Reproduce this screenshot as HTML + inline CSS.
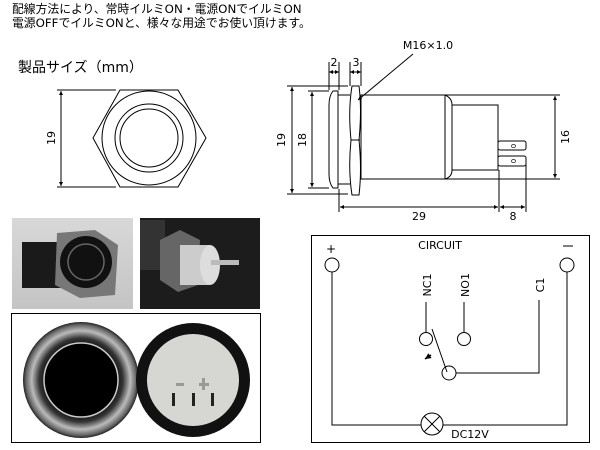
<!DOCTYPE html>
<html><head><meta charset="utf-8"><style>
body{margin:0;background:#fff;width:600px;height:450px;overflow:hidden}
svg{display:block}
text{font-family:"DejaVu Sans","Noto Sans CJK JP",sans-serif}
</style></head><body>
<svg width="600" height="450" viewBox="0 0 600 450" xmlns="http://www.w3.org/2000/svg">
<defs>
<marker id="a" viewBox="0 0 6 6" refX="6" refY="3" markerWidth="4" markerHeight="4" orient="auto-start-reverse"><path d="M0,0L6,3L0,6z" fill="#000"/></marker>
<radialGradient id="ring" cx="0.5" cy="0.5" r="0.5"><stop offset="0.6" stop-color="#111"/><stop offset="0.72" stop-color="#333"/><stop offset="0.85" stop-color="#bbb"/><stop offset="0.95" stop-color="#666"/><stop offset="1" stop-color="#222"/></radialGradient>
<linearGradient id="p1" x1="0" y1="0" x2="0" y2="1"><stop offset="0" stop-color="#d8d8d8"/><stop offset="1" stop-color="#c4c4c4"/></linearGradient>
</defs>
<text x="12" y="13" font-size="11.8" font-family="Noto Sans CJK JP,sans-serif">配線方法により、常時イルミON・電源ONでイルミON</text>
<text x="12" y="27" font-size="11.8" font-family="Noto Sans CJK JP,sans-serif">電源OFFでイルミONと、様々な用途でお使い頂けます。</text>
<text x="18" y="72" font-size="14" font-family="Noto Sans CJK JP,sans-serif">製品サイズ（mm）</text>
<g fill="none" stroke="#000" stroke-width="1">
<polygon points="120,90 178,90 206,138 178,187 120,187 93,138"/>
<circle cx="149" cy="138" r="47"/><circle cx="149" cy="138" r="34"/><circle cx="149" cy="138" r="29"/>
<line x1="57" y1="90" x2="116" y2="90"/><line x1="57" y1="187" x2="116" y2="187"/>
<line x1="61" y1="91" x2="61" y2="186" marker-start="url(#a)" marker-end="url(#a)"/>
<line x1="287" y1="86" x2="348" y2="86"/><line x1="287" y1="194" x2="348" y2="194"/>
<line x1="292" y1="87" x2="292" y2="193" marker-start="url(#a)" marker-end="url(#a)"/>
<line x1="308" y1="91" x2="329" y2="91"/><line x1="308" y1="188" x2="329" y2="188"/>
<line x1="312" y1="92" x2="312" y2="187" marker-start="url(#a)" marker-end="url(#a)"/>
<path d="M338,91 L333,91 Q329,96 329,105 L329,174 Q329,183 333,188 L338,188 Z"/>
<line x1="338" y1="95" x2="350" y2="95"/><line x1="338" y1="184" x2="350" y2="184"/>
<path d="M352,86 L359,86 Q362,110 359,140 Q362,170 359,195 L352,195 Q348,170 351,140 Q348,110 352,86 Z"/>
<line x1="351" y1="140" x2="360" y2="140"/>
<rect x="361" y="95" width="84" height="84"/>
<path d="M445,95 Q452,98 452,105 L452,170 Q452,177 445,179"/>
<rect x="452" y="105" width="46" height="65"/>
<rect x="498" y="141" width="28" height="9" rx="2"/><rect x="498" y="156" width="28" height="10" rx="2"/>
<line x1="445" y1="95" x2="560" y2="95"/><line x1="445" y1="179" x2="560" y2="179"/>
<line x1="555" y1="96" x2="555" y2="178" marker-start="url(#a)" marker-end="url(#a)"/>
<line x1="339" y1="189" x2="339" y2="212"/><line x1="499" y1="170" x2="499" y2="212"/><line x1="526" y1="160" x2="526" y2="212"/>
<line x1="340" y1="207" x2="498" y2="207" marker-start="url(#a)" marker-end="url(#a)"/>
<line x1="500" y1="207" x2="525" y2="207" marker-start="url(#a)" marker-end="url(#a)"/>
<line x1="329" y1="62" x2="329" y2="90"/><line x1="339" y1="62" x2="339" y2="90"/><line x1="350" y1="62" x2="350" y2="86"/><line x1="361" y1="62" x2="361" y2="86"/>
<line x1="329" y1="72" x2="339" y2="72" marker-start="url(#a)" marker-end="url(#a)"/>
<line x1="350" y1="72" x2="361" y2="72" marker-start="url(#a)" marker-end="url(#a)"/>
<line x1="413" y1="54" x2="358" y2="100" marker-end="url(#a)"/>
</g>
<g font-size="11" text-anchor="middle">
<text transform="translate(55,138) rotate(-90)">19</text>
<text transform="translate(285,140) rotate(-90)">19</text>
<text transform="translate(306,140) rotate(-90)">18</text>
<text transform="translate(569,137) rotate(-90)">16</text>
<text transform="translate(516,146) rotate(-90)" font-size="7">0</text>
<text transform="translate(516,161) rotate(-90)" font-size="7">0</text>
<text x="334" y="66">2</text><text x="356" y="66">3</text>
<text x="428" y="49">M16×1.0</text>
<text x="419" y="220">29</text><text x="513" y="220">8</text>
</g>
<rect x="12" y="218" width="121" height="91" fill="url(#p1)"/>
<rect x="22" y="242" width="40" height="46" fill="#1a1a1a"/>
<polygon points="57,233 95,230 118,245 115,295 80,298 55,285" fill="#777"/>
<circle cx="86" cy="262" r="26" fill="#111"/><circle cx="86" cy="262" r="18" fill="none" stroke="#666" stroke-width="1.5"/>
<rect x="140" y="218" width="120" height="91" fill="#1c1c1c"/>
<rect x="140" y="220" width="25" height="50" fill="#333"/>
<polygon points="160,240 180,230 200,240 198,285 178,292 160,280" fill="#666"/>
<rect x="180" y="245" width="30" height="40" fill="#ccc"/><ellipse cx="210" cy="265" rx="10" ry="20" fill="#ddd"/>
<rect x="211" y="260" width="28" height="5" fill="#bbb"/>
<rect x="11.5" y="313.5" width="249" height="129" fill="#fff" stroke="#000"/>
<circle cx="81" cy="380" r="58" fill="url(#ring)"/><circle cx="81" cy="380" r="37" fill="#000" stroke="#ccc" stroke-width="1.5"/>
<circle cx="193" cy="380" r="57" fill="#111"/><circle cx="193" cy="380" r="46" fill="#d6d6d2"/>
<g fill="#222"><rect x="172" y="393" width="3" height="13"/><rect x="192" y="393" width="3" height="13"/><rect x="211" y="393" width="3" height="13"/>
<rect x="176" y="383" width="8" height="3" fill="#999"/><rect x="199" y="383" width="10" height="3" fill="#999"/><rect x="202" y="378" width="3" height="12" fill="#999"/></g>
<g fill="none" stroke="#000" stroke-width="1">
<rect x="311.5" y="235.5" width="278" height="207"/>
<circle cx="332" cy="265" r="7"/><circle cx="567" cy="265" r="7"/>
<polyline points="332,272 332,425 421,425"/><polyline points="443,425 567,425 567,272"/>
<circle cx="432" cy="424" r="11"/><line x1="424" y1="416" x2="440" y2="432"/><line x1="440" y1="416" x2="424" y2="432"/>
<line x1="426" y1="302" x2="426" y2="332"/><circle cx="426" cy="339" r="6.5"/>
<line x1="464" y1="302" x2="464" y2="332"/><circle cx="464" cy="339" r="6.5"/>
<circle cx="449" cy="373" r="7"/><polyline points="456,373 539,373 539,300"/>
<line x1="432" y1="329" x2="447" y2="372"/>
<line x1="431" y1="355" x2="425" y2="359" marker-end="url(#a)" stroke-width="1.5"/>
</g>
<g font-size="11" text-anchor="middle">
<text x="440" y="249">CIRCUIT</text>
<text x="331" y="253" font-size="12">+</text>
<line x1="563" y1="246" x2="573" y2="246" stroke="#000"/>
<text transform="translate(431,285) rotate(-90)">NC1</text>
<text transform="translate(469,285) rotate(-90)">NO1</text>
<text transform="translate(544,285) rotate(-90)">C1</text>
<text x="470" y="438">DC12V</text>
</g>
</svg>
</body></html>
